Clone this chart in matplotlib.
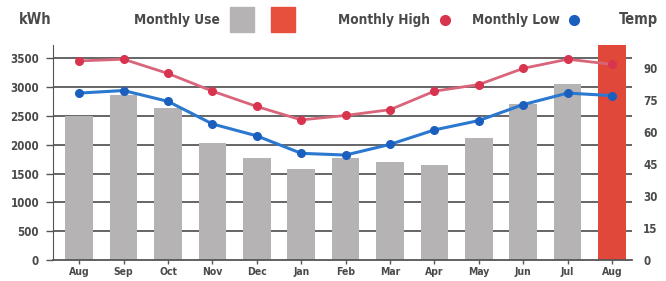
import matplotlib
matplotlib.use("Agg")
from matplotlib import pyplot as plt
from matplotlib.patches import Rectangle
import numpy as np

months = ["Aug", "Sep", "Oct", "Nov", "Dec", "Jan", "Feb", "Mar", "Apr", "May", "Jun", "Jul", "Aug"]
use_kwh = [2505, 2855, 2640, 2025, 1770, 1580, 1775, 1705, 1650, 2110, 2710, 3060, 3730]
temp_high = [93.5, 94.3, 87.6, 79.3, 72.1, 65.8, 67.9, 70.6, 79.3, 82.4, 90.0, 94.3, 91.9]
temp_low = [78.4, 79.6, 74.5, 63.9, 58.3, 50.1, 49.3, 54.3, 61.1, 65.5, 73.0, 78.4, 77.2]
kwh_ticks = [0, 500, 1000, 1500, 2000, 2500, 3000, 3500]
temp_ticks = [0, 15, 30, 45, 60, 75, 90]

fam = "DejaVu Sans"
txt = "#4a4a4a"
hfont = dict(family=fam, fontweight="bold", fontstretch="condensed", color=txt, va="center")

fig = plt.figure(figsize=(6.66, 2.81), dpi=100)
ax = fig.add_axes([0.0796, 0.0747, 0.8694, 0.7653])
ax2 = ax.twinx()

x = np.arange(len(months))
colors = ["#b5b3b3"] * (len(months) - 1) + ["#e0493a"]
ax.bar(x, use_kwh, width=0.62, color=colors, zorder=2)

for v in kwh_ticks[1:]:
    ax.axhline(v, color="#3c3c3c", lw=1.1, zorder=1)

ax.set_xlim(-0.59, 12.45)
ax.set_ylim(0, 3730)
ax.set_yticks(kwh_ticks)
ax.set_xticks(x)
ax.set_xticklabels(months)
ax.tick_params(axis="y", length=5, width=1, color="#555555", labelsize=8.3, labelcolor=txt, pad=5)
ax.tick_params(axis="x", length=3, width=1, color="#555555", labelsize=7.5, labelcolor=txt, pad=2)
for lab in ax.get_xticklabels() + ax.get_yticklabels():
    lab.set_family(fam)
    lab.set_fontweight("bold")
    lab.set_fontstretch("condensed")
for s in ["top", "right"]:
    ax.spines[s].set_visible(False)
ax.spines["left"].set_color("#555555")
ax.spines["bottom"].set_color("#555555")
ax.spines["bottom"].set_linewidth(1.3)

ax2.plot(x, temp_high, color="#d9657a", lw=2, marker="o", ms=5.5,
         mfc="#d8344f", mec="#d8344f", zorder=3)
ax2.plot(x, temp_low, color="#2b78d0", lw=2.2, marker="o", ms=5.5,
         mfc="#1b5fbe", mec="#1b5fbe", zorder=3)
ax2.set_ylim(0, 101)
ax2.set_yticks(temp_ticks)
ax2.tick_params(axis="y", length=0, labelsize=8.3, labelcolor=txt, pad=8)
for lab in ax2.get_yticklabels():
    lab.set_family(fam)
    lab.set_fontweight("bold")
    lab.set_fontstretch("condensed")
for s in ax2.spines.values():
    s.set_visible(False)

# header legend
fig.text(0.029, 0.93, "kWh", fontsize=10.5, **hfont)
fig.text(0.201, 0.93, "Monthly Use", fontsize=9.8, **hfont)
fig.patches.append(Rectangle((230 / 666, 1 - 32 / 281), 24 / 666, 25 / 281,
                             transform=fig.transFigure, color="#b5b3b3"))
fig.patches.append(Rectangle((271 / 666, 1 - 32 / 281), 24 / 666, 25 / 281,
                             transform=fig.transFigure, color="#e8503e"))
fig.text(0.507, 0.93, "Monthly High", fontsize=9.8, **hfont)
fig.lines.append(plt.Line2D([445 / 666], [0.93], transform=fig.transFigure, marker="o",
                            ms=7, color="#d8344f"))
fig.text(0.709, 0.93, "Monthly Low", fontsize=9.8, **hfont)
fig.lines.append(plt.Line2D([574 / 666], [0.93], transform=fig.transFigure, marker="o",
                            ms=7, color="#1b5fbe"))
fig.text(0.929, 0.93, "Temp", fontsize=10.5, **hfont)

fig.savefig("out.png", dpi=100)
